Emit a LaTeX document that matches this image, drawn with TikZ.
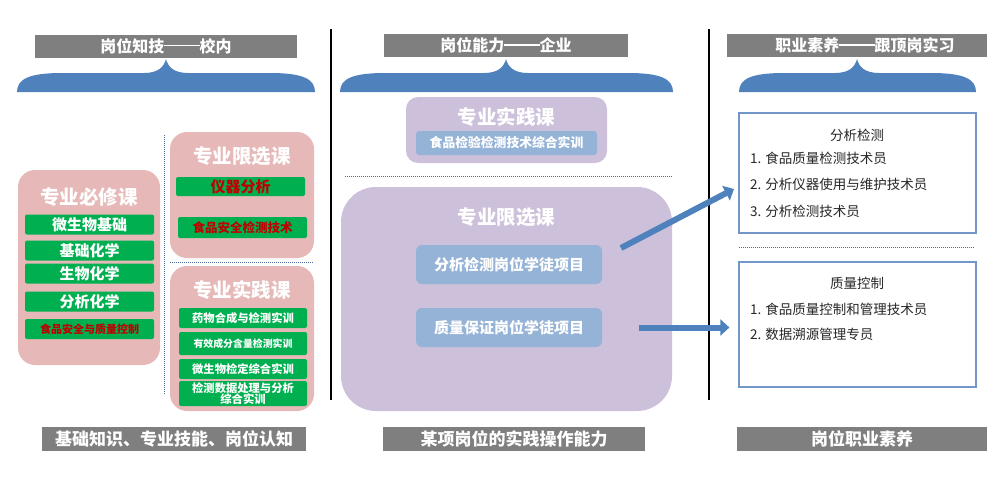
\documentclass[tikz,border=0pt]{standalone}
\usepackage{fontspec}
\setmainfont{Noto Sans CJK SC}
\usepackage{tikz}
\usetikzlibrary{arrows.meta,positioning}
\definecolor{hdrgray}{HTML}{7F7F7F}
\definecolor{braceblue}{HTML}{4F81BD}
\definecolor{pinkbg}{HTML}{E6B9B8}
\definecolor{barg}{HTML}{00B050}
\definecolor{barred}{HTML}{C00000}
\definecolor{lilac}{HTML}{CCC0DA}
\definecolor{paleblue}{HTML}{95B3D7}
\definecolor{rimblue}{HTML}{7396C8}
\definecolor{dotblue}{HTML}{4A6A9A}
\newcommand{\longdash}{\rule[0.36em]{2.2em}{0.09em}}
\tikzstyle{header}=[fill=hdrgray,text=white,inner sep=0pt,minimum height=23pt,font=\bfseries\fontsize{16}{18}\selectfont]
\tikzstyle{footer}=[header,minimum height=24pt,font=\bfseries\fontsize{17}{19}\selectfont]
\tikzstyle{pinkbox}=[fill=pinkbg,rounded corners=17pt,inner sep=0pt]
\tikzstyle{lilacbox}=[fill=lilac,inner sep=0pt]
\tikzstyle{boxtitle}=[text=white,inner sep=0pt,font=\bfseries\fontsize{19.5}{21}\selectfont]
\tikzstyle{gbar}=[fill=barg,rounded corners=2pt,text=white,inner sep=0pt,minimum width=129pt,minimum height=20pt,font=\bfseries\fontsize{15}{16}\selectfont]
\tikzstyle{rbar}=[gbar,text=barred]
\tikzstyle{bbar}=[fill=paleblue,rounded corners=6pt,text=white,inner sep=0pt,font=\bfseries\fontsize{15}{16}\selectfont]
\tikzstyle{jobbox}=[draw=rimblue,line width=1.2pt,fill=white,inner sep=0pt,minimum width=237pt]
\tikzstyle{jobtext}=[inner sep=0pt,text=black!85,font=\fontsize{13.5}{15}\selectfont]
\tikzstyle{sepdot}=[densely dotted,draw=dotblue,line width=1pt]
\tikzstyle{flow}=[draw=braceblue,line width=6pt,-{Triangle[length=9pt,width=16pt]}]

\begin{document}
\begin{tikzpicture}[x=1pt,y=-1pt]
\useasboundingbox (0,0) rectangle (1007,498);
% column rules
\draw[black,line width=1.2pt] (331,29) -- (331,400);
\draw[black,line width=1.2pt] (709,29) -- (709,400);
% braces under the headers
\foreach \l/\c/\r in {17/166/315,340/506/673,739/857/976}
  \fill[braceblue] (\l,92) .. controls (\l,79) and (\l+12,73) .. (\l+45,73)
    -- (\c-22,73) .. controls (\c-8,73) and (\c-2,67) .. (\c,59)
    .. controls (\c+2,67) and (\c+8,73) .. (\c+22,73)
    -- (\r-45,73) .. controls (\r-12,73) and (\r,79) .. (\r,92) -- cycle;
\node[header,minimum width=262pt] (hdrSchool) at (166,46) {岗位知技\longdash 校内};
\node[header,minimum width=244pt] (hdrFirm)   at (506,45.5) {岗位能力\longdash 企业};
\node[header,minimum width=260pt] (hdrIntern) at (857,45.5) {\hspace*{16pt}职业素养\longdash 跟顶岗实习};

% school: required courses
\node[pinkbox,minimum width=142pt,minimum height=195pt] (must) at (89,267.5) {};
\node[boxtitle] (mustT) at (89,197) {专业必修课};
\node[gbar] (must1) at (89.5,224.5) {微生物基础};
\node[gbar] (must2) at (89.5,250.5) {基础化学};
\node[gbar] (must3) at (89.5,273.5) {生物化学};
\node[gbar] (must4) at (89.5,301.5) {分析化学};
\node[rbar,font=\bfseries\fontsize{11}{12}\selectfont] (must5) at (89.5,329) {食品安全与质量控制};
\draw[sepdot] (164,135) -- (164,394);
% school: elective courses
\node[pinkbox,minimum width=144pt,minimum height=126pt] (elect) at (242,195) {};
\node[boxtitle] (electT) at (242,156) {专业限选课};
\node[rbar,minimum height=19pt] (elect1) at (240.5,186.5) {仪器分析};
\node[rbar,minimum height=21pt,font=\bfseries\fontsize{12.5}{14}\selectfont] (elect2) at (242.5,227.5) {食品安全检测技术};
\draw[sepdot] (170,262) -- (313,262);
% school: practice courses
\node[pinkbox,minimum width=144pt,minimum height=145pt] (prac) at (242,338.5) {};
\node[boxtitle] (pracT) at (242,290) {专业实践课};
\node[gbar,minimum width=128pt,font=\bfseries\fontsize{11.3}{12}\selectfont] (prac1) at (243,318) {药物合成与检测实训};
\node[gbar,minimum width=128pt,minimum height=23pt,font=\bfseries\fontsize{9.9}{11}\selectfont] (prac2) at (243,343.5) {有效成分含量检测实训};
\node[gbar,minimum width=128pt,font=\bfseries\fontsize{11.3}{12}\selectfont] (prac3) at (243,369) {微生物检定综合实训};
\node[gbar,minimum width=128pt,minimum height=25pt,align=center,font=\bfseries\fontsize{11.3}{11.5}\selectfont] (prac4) at (243,393.5) {检测数据处理与分析\\综合实训};
\node[footer,minimum width=264pt] (ftSchool) at (174,439) {基础知识、专业技能、岗位认知};

% firm
\node[lilacbox,rounded corners=12pt,minimum width=201pt,minimum height=66pt] (fPrac) at (506.5,130) {};
\node[boxtitle] (fPracT) at (506.5,117) {专业实践课};
\node[bbar,rounded corners=3pt,minimum width=181pt,minimum height=24pt,font=\bfseries\fontsize{12.8}{14}\selectfont] (fPrac1) at (506.5,143) {食品检验检测技术综合实训};
\draw[sepdot] (345,176) -- (673,176);
\node[lilacbox,rounded corners=35pt,minimum width=331pt,minimum height=224pt] (fElect) at (506.5,299) {};
\node[boxtitle] (fElectT) at (506.5,217) {专业限选课};
\node[bbar,minimum width=186pt,minimum height=39pt] (ana) at (509,264.5) {分析检测岗位学徒项目};
\node[bbar,minimum width=186pt,minimum height=39pt] (qa)  at (509,327.5) {质量保证岗位学徒项目};
\node[footer,minimum width=262pt] (ftFirm) at (514,439) {某项岗位的实践操作能力};

% internship
\node[jobbox,minimum height=120pt] (jobA) at (857.5,173) {};
\node[jobtext] (jobAT) at (857,135) {分析检测};
\node[jobtext,anchor=west] (jobA1) at (750,158) {1. 食品质量检测技术员};
\node[jobtext,anchor=west] (jobA2) at (750,184.5) {2. 分析仪器使用与维护技术员};
\node[jobtext,anchor=west] (jobA3) at (750,211) {3. 分析检测技术员};
\draw[sepdot] (739,247) -- (975,247);
\node[jobbox,minimum height=125pt] (jobB) at (857.5,324.5) {};
\node[jobtext] (jobBT) at (857,283) {质量控制};
\node[jobtext,anchor=west] (jobB1) at (750,309) {1. 食品质量控制和管理技术员};
\node[jobtext,anchor=west] (jobB2) at (750,334) {2. 数据溯源管理专员};
\node[footer,minimum width=250pt] (ftIntern) at (862,439) {岗位职业素养};

% arrows
\coordinate (arrA) at (621,248);
\coordinate (arrAend) at (734,189);
\coordinate (arrB) at (639,327.5);
\draw[flow] (arrA) -- (arrAend);
\draw[flow,shorten >=9pt] (arrB) -- (arrB -| jobB.west);
\end{tikzpicture}
\end{document}
